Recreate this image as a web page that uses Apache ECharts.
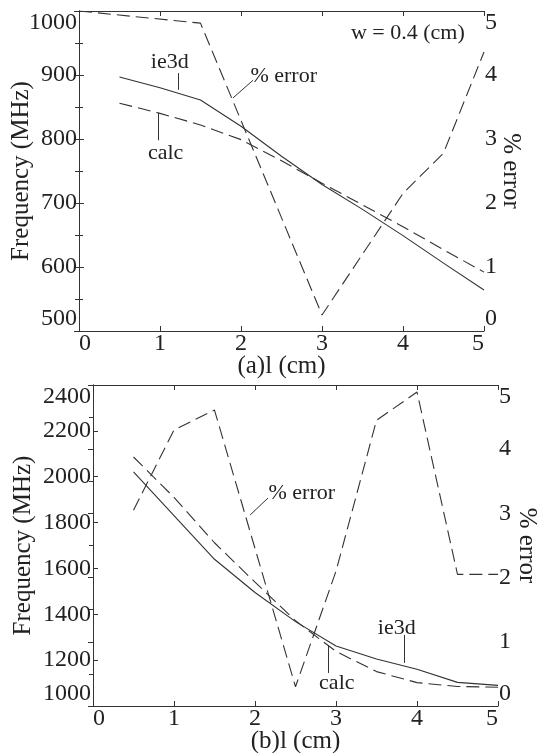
<!DOCTYPE html>
<html>
<head>
<meta charset="utf-8">
<script src="https://cdn.jsdelivr.net/npm/echarts@6/dist/echarts.min.js"></script>
<style>
  html, body { margin: 0; padding: 0; background: #fff; }
  #chart { width: 537px; height: 753px; }
</style>
</head>
<body>
<div id="chart"></div>
<script>
// (a) w = 0.4 cm
const lengthA = [0.5, 1, 1.5, 2, 2.5, 3, 3.5, 4, 4.5, 5]
const ie3dA = [897, 880, 861, 820, 773, 729, 690, 649, 606, 564]
const calcA = [856, 840, 822, 799, 766, 731, 697, 663, 627, 592]
const errLengthA = [0, 1.5, 3, 3.5, 4, 4.5, 5]
const errA = [5.0, 4.81, 0.25, 1.2, 2.15, 2.78, 4.36]

// (b)
const lengthB = [0.5, 1, 1.5, 2, 2.5, 3, 3.5, 4, 4.5, 5]
const ie3dB = [2021, 1830, 1640, 1495, 1368, 1262, 1205, 1160, 1103, 1090]
const calcB = [2086, 1910, 1712, 1540, 1372, 1238, 1150, 1102, 1085, 1082]
const errLengthB = [0.5, 1, 1.5, 2.5, 3, 3.5, 4, 4.5, 5]
const errB = [3.05, 4.3, 4.61, 0.3, 2.1, 4.45, 4.89, 2.05, 2.05]

// annotation anchors, in data units of the frequency axis
const notesA = [
  { name: 'w = 0.4 (cm)', coord: [4.06, 965] },
  { name: 'ie3d', coord: [1.12, 920] },
  { name: 'calc', coord: [1.07, 778] }
]
const errNoteA = [2.11, 898]
const leadersA = [
  [[1.22, 903], [1.22, 877]],
  [[0.975, 841], [0.975, 798]],
  [[1.90, 864], [2.15, 892]]
]
const notesB = [
  { name: 'ie3d', coord: [3.75, 1340] },
  { name: 'calc', coord: [3.01, 1100] }
]
const errNoteB = [2.16, 1929]
const leadersB = [
  [[3.84, 1310], [3.84, 1188]],
  [[2.90, 1266], [2.90, 1144]],
  [[1.94, 1833], [2.16, 1907]]
]

const serif = '"Liberation Serif", "Times New Roman", serif'
const ink = '#222'
const lineInk = '#333'
const dash = [13, 6]

const pairs = (xs, ys) => xs.map((x, i) => [x, ys[i]])
const plain = v => String(v)

const lineStyleAxis = { show: true, lineStyle: { color: lineInk, width: 1 } }

const xAxisBottom = (gridIndex, name) => ({
  type: 'value', gridIndex, min: 0, max: 5, interval: 1,
  axisLine: lineStyleAxis,
  axisTick: { inside: true, length: 5, lineStyle: { color: lineInk } },
  axisLabel: {
    fontFamily: serif, fontSize: 24, color: ink, margin: 1, formatter: plain,
    alignMinLabel: 'left', alignMaxLabel: 'right'
  },
  splitLine: { show: false },
  name, nameLocation: 'middle', nameGap: 23, nameMoveOverlap: false,
  nameTextStyle: { fontFamily: serif, fontSize: 25, color: ink }
})

const xAxisTop = gridIndex => ({
  type: 'value', gridIndex, position: 'top', min: 0, max: 5, interval: 1,
  axisLine: lineStyleAxis,
  axisTick: { inside: true, length: 5, lineStyle: { color: lineInk } },
  axisLabel: { show: false },
  splitLine: { show: false }
})

const yAxisLeft = (gridIndex, min, max, interval, minor, gap) => ({
  type: 'value', gridIndex, position: 'left', min, max, interval,
  axisLine: lineStyleAxis,
  axisTick: { inside: true, length: 5, lineStyle: { color: lineInk } },
  minorTick: { show: minor, splitNumber: 2, length: 4, lineStyle: { color: lineInk } },
  axisLabel: {
    fontFamily: serif, fontSize: 24, color: ink, margin: 2, formatter: plain,
    verticalAlignMinLabel: 'bottom', verticalAlignMaxLabel: 'top'
  },
  splitLine: { show: false },
  minorSplitLine: { show: false },
  name: 'Frequency (MHz)', nameLocation: 'middle', nameGap: gap, nameRotate: 90,
  nameMoveOverlap: false,
  nameTextStyle: { fontFamily: serif, fontSize: 25, color: ink }
})

const yAxisRight = (gridIndex, gap) => ({
  type: 'value', gridIndex, position: 'right', min: 0, max: 5, interval: 1,
  axisLine: lineStyleAxis,
  axisTick: { inside: true, length: 5, lineStyle: { color: lineInk } },
  minorTick: { show: true, splitNumber: 2, length: 4, lineStyle: { color: lineInk } },
  axisLabel: {
    fontFamily: serif, fontSize: 24, color: ink, margin: 1, formatter: plain,
    verticalAlignMinLabel: 'bottom', verticalAlignMaxLabel: 'top'
  },
  splitLine: { show: false },
  minorSplitLine: { show: false },
  name: '% error', nameLocation: 'middle', nameGap: gap, nameRotate: -90,
  nameMoveOverlap: false,
  nameTextStyle: { fontFamily: serif, fontSize: 25, color: ink }
})

const noteLabel = { show: true, fontFamily: serif, fontSize: 22, color: ink }

const annotate = (notes, errNote, leaders) => ({
  markPoint: {
    silent: true,
    symbol: 'rect',
    symbolSize: 1,
    itemStyle: { color: 'transparent' },
    data: [
      ...notes.map(n => ({
        name: n.name, coord: n.coord,
        label: { ...noteLabel, position: 'inside', formatter: n.name }
      })),
      {
        name: '% error', coord: errNote,
        label: { ...noteLabel, position: 'right', distance: 0, formatter: '% error' }
      }
    ]
  },
  markLine: {
    silent: true,
    symbol: ['none', 'none'],
    label: { show: false },
    lineStyle: { type: 'solid', width: 1, color: lineInk },
    data: leaders.map(([a, b]) => [{ coord: a }, { coord: b }])
  }
})

const line = (name, data, xAxisIndex, yAxisIndex, dashed, extra) => ({
  name, type: 'line', data, xAxisIndex, yAxisIndex,
  symbol: 'none', smooth: false,
  lineStyle: { color: lineInk, width: 1.1, type: dashed ? dash : 'solid' },
  ...extra
})

const chart = echarts.init(document.getElementById('chart'))
chart.setOption({
  animation: false,
  backgroundColor: '#fff',
  grid: [
    { left: 79, top: 11, width: 405, height: 320, outerBoundsMode: 'none' },
    { left: 93, top: 385, width: 405, height: 321, outerBoundsMode: 'none' }
  ],
  xAxis: [
    xAxisBottom(0, '(a)l (cm)'),
    xAxisTop(0),
    xAxisBottom(1, '(b)l (cm)'),
    xAxisTop(1)
  ],
  yAxis: [
    yAxisLeft(0, 500, 1000, 100, true, 45),
    yAxisRight(0, 14),
    yAxisLeft(1, 1000, 2400, 200, false, 57),
    yAxisRight(1, 16)
  ],
  series: [
    line('ie3d', pairs(lengthA, ie3dA), 0, 0, false, annotate(notesA, errNoteA, leadersA)),
    line('calc', pairs(lengthA, calcA), 0, 0, true),
    line('% error', pairs(errLengthA, errA), 0, 1, true),
    line('ie3d', pairs(lengthB, ie3dB), 2, 2, false, annotate(notesB, errNoteB, leadersB)),
    line('calc', pairs(lengthB, calcB), 2, 2, true),
    line('% error', pairs(errLengthB, errB), 2, 3, true)
  ]
})
</script>
</body>
</html>
